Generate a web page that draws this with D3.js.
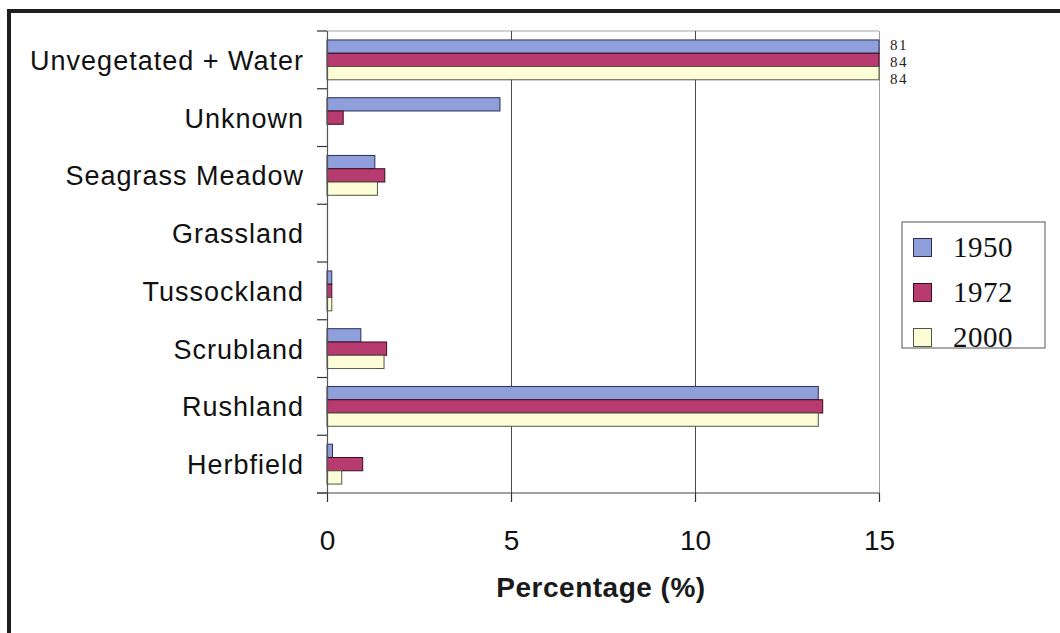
<!DOCTYPE html>
<html>
<head>
<meta charset="utf-8">
<script src="https://cdn.jsdelivr.net/npm/d3@7"></script>
<style>
  html, body { margin: 0; padding: 0; background: #fff; }
  svg { display: block; }
</style>
</head>
<body>
<svg id="chart" width="1060" height="633"></svg>
<script>
// Land-cover classes, top to bottom
const categories = ["Unvegetated + Water", "Unknown", "Seagrass Meadow", "Grassland",
                    "Tussockland", "Scrubland", "Rushland", "Herbfield"];
const years = ["1950", "1972", "2000"];
// Percentage of area per class for each survey year
const values1950 = [81, 4.7, 1.3, 0, 0.13, 0.92, 13.35, 0.15];
const values1972 = [84, 0.44, 1.57, 0, 0.13, 1.62, 13.47, 0.97];
const values2000 = [84, 0, 1.37, 0, 0.13, 1.55, 13.35, 0.4];
const xTicks = [0, 5, 10, 15];
const xTitle = "Percentage (%)";

const seriesValues = [values1950, values1972, values2000];
const fills = ["#8e9fdc", "#b73b6f", "#fcfcd7"];
const strokes = ["#2b2f55", "#3a0c20", "#555544"];

const svg = d3.select("#chart");

// Outer frame (top and left edges)
svg.append("rect").attr("x", 7).attr("y", 9).attr("width", 1060).attr("height", 4).attr("fill", "#1c1f1e");
svg.append("rect").attr("x", 7).attr("y", 9).attr("width", 4).attr("height", 640).attr("fill", "#1c1f1e");

const plot = { left: 327, right: 879, top: 31, bottom: 493 };

const x = d3.scaleLinear().domain([0, 15]).range([plot.left, plot.right]).clamp(true);
const y = d3.scaleBand().domain(categories).range([plot.top, plot.bottom])
  .paddingInner(0.31).paddingOuter(0.155);
const ySub = d3.scaleBand().domain(years).range([0, y.bandwidth()]);

const g = svg.append("g");

// Plot border along the top
g.append("line").attr("x1", plot.left).attr("x2", plot.right)
  .attr("y1", plot.top).attr("y2", plot.top).attr("stroke", "#c4c4c4").attr("stroke-width", 1.5);

// Vertical gridlines
g.selectAll("line.grid").data(xTicks.filter(d => d > 0)).join("line")
  .attr("class", "grid")
  .attr("x1", d => x(d) + 0.5).attr("x2", d => x(d) + 0.5)
  .attr("y1", plot.top).attr("y2", plot.bottom)
  .attr("stroke", d => d === 15 ? "#a0a0a0" : "#4a4a4a").attr("stroke-width", 1);

// Bars
years.forEach((yr, si) => {
  g.selectAll("rect.s" + si).data(categories).join("rect")
    .attr("class", "s" + si)
    .attr("x", x(0))
    .attr("y", c => y(c) + ySub(yr))
    .attr("width", (c, i) => x(seriesValues[si][i]) - x(0))
    .attr("height", ySub.bandwidth())
    .attr("fill", fills[si])
    .attr("stroke", strokes[si])
    .attr("stroke-width", 1)
    .attr("display", (c, i) => seriesValues[si][i] > 0 ? null : "none");
});

// Values for bars running off the scale
categories.forEach((c, i) => {
  const over = years.map((yr, si) => seriesValues[si][i]).filter(v => v > x.domain()[1]);
  over.forEach((v, k) => {
    g.append("text")
      .attr("x", plot.right + 11)
      .attr("y", y(c) + ySub.bandwidth() / 2 + 3 + k * 17)
      .attr("font-family", "Liberation Serif, Times New Roman, serif")
      .attr("font-size", 15)
      .attr("letter-spacing", 1.5)
      .attr("fill", "#222")
      .text(v);
  });
});

// Category axis line and boundary ticks
g.append("line").attr("x1", plot.left + 0.5).attr("x2", plot.left + 0.5)
  .attr("y1", plot.top).attr("y2", plot.bottom).attr("stroke", "#555").attr("stroke-width", 1.2);
g.selectAll("line.ctick").data(d3.range(categories.length + 1)).join("line")
  .attr("class", "ctick")
  .attr("x1", plot.left - 10).attr("x2", plot.left)
  .attr("y1", i => plot.top + i * y.step())
  .attr("y2", i => plot.top + i * y.step())
  .attr("stroke", "#333").attr("stroke-width", 1.2);

// Category labels
g.selectAll("text.cat").data(categories).join("text")
  .attr("class", "cat")
  .attr("x", 304)
  .attr("y", c => y(c) + y.bandwidth() / 2 + 10)
  .attr("text-anchor", "end")
  .attr("font-family", "Liberation Sans, Arial, sans-serif")
  .attr("font-size", 27)
  .attr("letter-spacing", 1)
  .attr("fill", "#111")
  .text(c => c);

// Value axis
const xAxis = d3.axisBottom(x).tickValues(xTicks).tickSize(9).tickPadding(28).tickFormat(d3.format("d"));
const ax = g.append("g").attr("transform", `translate(0,${plot.bottom})`).call(xAxis);
ax.select(".domain").remove();
ax.selectAll(".tick line").attr("stroke", "#333").attr("stroke-width", 1.2);
ax.selectAll(".tick text")
  .attr("font-family", "Liberation Sans, Arial, sans-serif")
  .attr("font-size", 28).attr("fill", "#111");
g.append("line").attr("x1", plot.left - 10).attr("x2", plot.right)
  .attr("y1", plot.bottom).attr("y2", plot.bottom).attr("stroke", "#444").attr("stroke-width", 1.2);

// Axis title
g.append("text")
  .attr("x", 601)
  .attr("y", 597)
  .attr("text-anchor", "middle")
  .attr("font-family", "Liberation Sans, Arial, sans-serif")
  .attr("font-weight", "bold")
  .attr("font-size", 28)
  .attr("letter-spacing", 0.5)
  .attr("fill", "#1a1a1a")
  .text(xTitle);

// Legend
const lg = svg.append("g").attr("transform", "translate(902,222)");
lg.append("rect").attr("width", 143).attr("height", 126)
  .attr("fill", "#fff").attr("stroke", "#555").attr("stroke-width", 1);
years.forEach((yr, si) => {
  lg.append("rect").attr("x", 11.5).attr("y", 16.5 + si * 45)
    .attr("width", 18).attr("height", 18)
    .attr("fill", fills[si]).attr("stroke", strokes[si]).attr("stroke-width", 1);
  lg.append("text").attr("x", 51).attr("y", 35 + si * 45)
    .attr("font-family", "Liberation Serif, Times New Roman, serif")
    .attr("font-size", 29)
    .attr("letter-spacing", 0.5)
    .attr("fill", "#111")
    .text(yr);
});
</script>
</body>
</html>
